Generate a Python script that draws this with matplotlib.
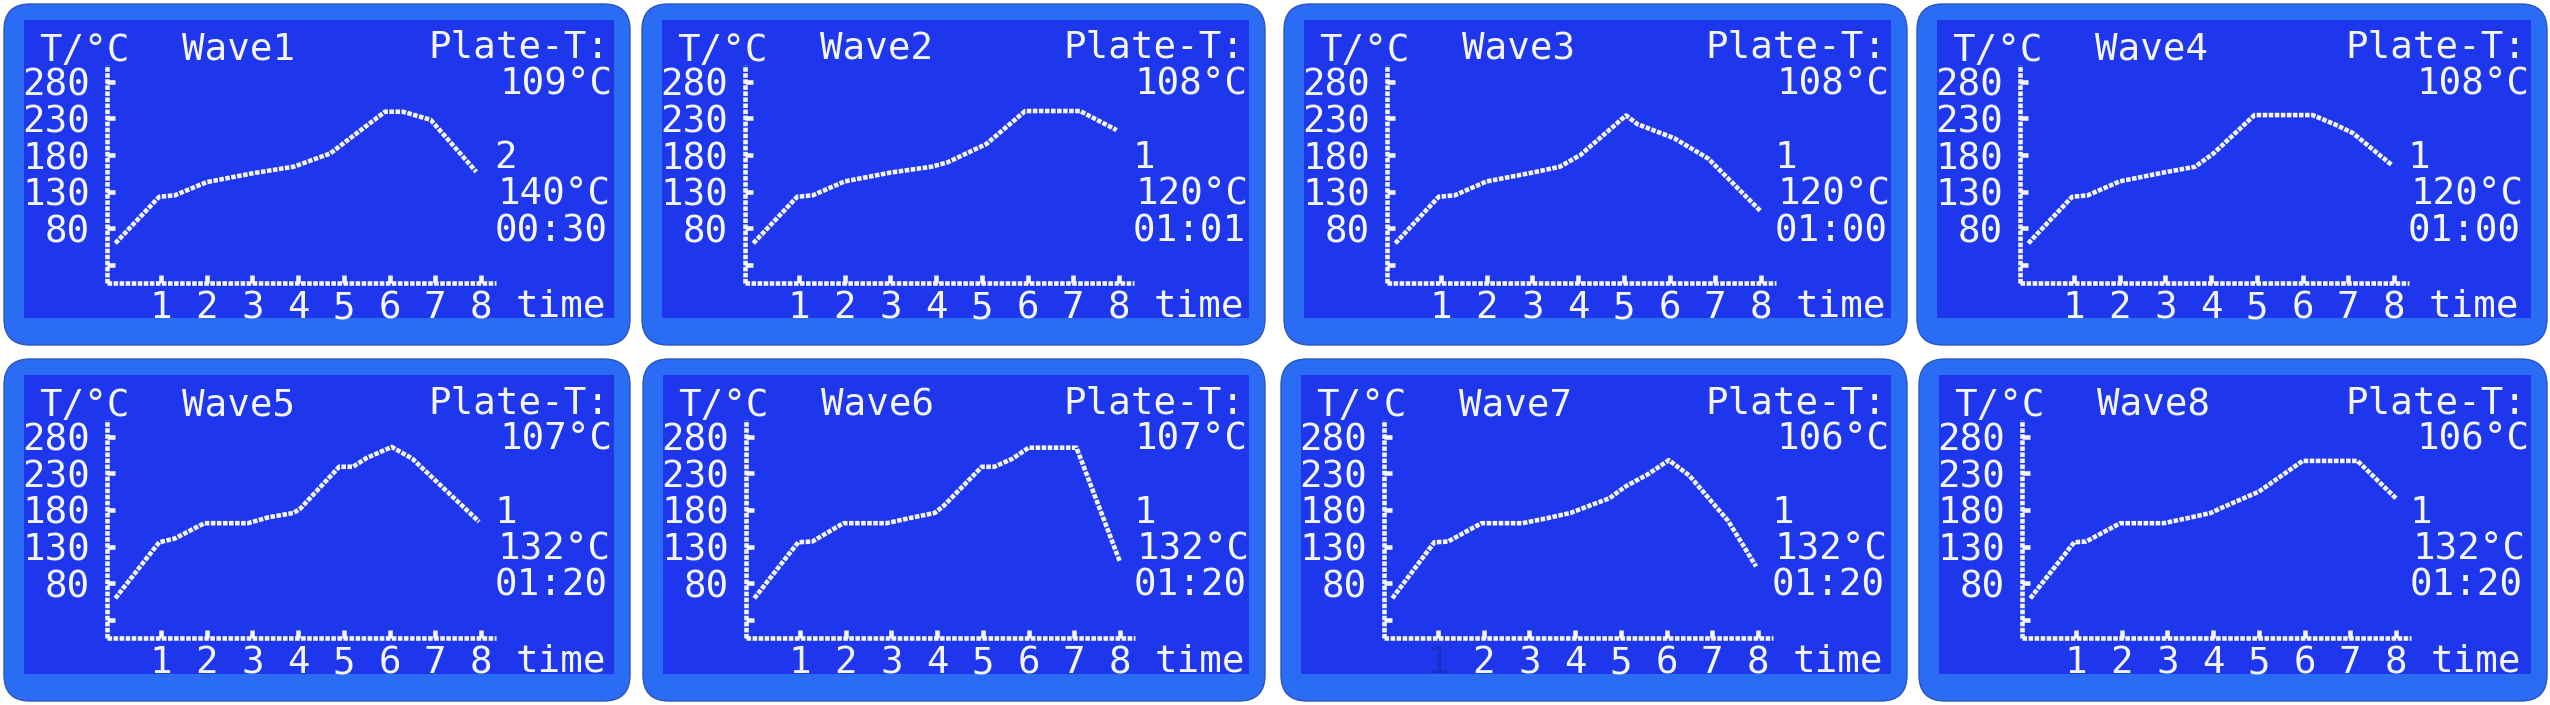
import matplotlib
matplotlib.use("Agg")
import matplotlib.pyplot as plt
from matplotlib.patches import FancyBboxPatch, Rectangle

# ---------------- data ----------------
wave_names = ["Wave1", "Wave2", "Wave3", "Wave4", "Wave5", "Wave6", "Wave7", "Wave8"]
plate_temps = ["109°C", "108°C", "108°C", "108°C", "107°C", "107°C", "106°C", "106°C"]
step_numbers = ["2", "1", "1", "1", "1", "1", "1", "1"]
set_temps = ["140°C", "120°C", "120°C", "120°C", "132°C", "132°C", "132°C", "132°C"]
timers = ["00:30", "01:01", "01:00", "01:00", "01:20", "01:20", "01:20", "01:20"]

y_tick_labels = ["280", "230", "180", "130", "80"]
y_tick_values = [280, 230, 180, 130, 80]
y_tick_marks = [30, 80, 130, 180, 230, 280]
x_tick_values = [1, 2, 3, 4, 5, 6, 7, 8]
x_tick_labels = ["1", "2", "3", "4", "5", "6", "7", "8"]
axis_time_range = [-0.18, 8.33]
axis_temp_range = [5.5, 303]

wave1_time = [0, 0.96, 1.3, 2.0, 3.0, 3.9, 4.7, 5.9, 6.3, 6.9, 7.9]
wave1_temp = [59.5, 123, 125, 143, 155, 164, 182, 239, 239, 228, 157]

wave2_time = [0, 0.96, 1.3, 2.0, 3.0, 3.9, 4.25, 5.1, 5.95, 7.15, 7.95]
wave2_temp = [59.5, 123, 125, 144, 156, 164, 170, 195, 240, 240, 214]

wave3_time = [0, 0.95, 1.3, 2.0, 3.0, 3.6, 4.05, 5.05, 5.3, 6.1, 6.85, 8.0]
wave3_temp = [59.5, 123, 125, 144, 156, 164, 180, 234, 222, 203, 175, 103]

wave4_time = [0, 0.96, 1.3, 2.0, 2.95, 3.65, 4.05, 4.95, 6.22, 6.7, 7.1, 7.96]
wave4_temp = [59.5, 123, 125, 144, 156, 164, 182, 234.5, 234.5, 222, 210, 166]

wave5_time = [0, 0.96, 1.3, 1.95, 2.9, 3.35, 3.9, 4.05, 4.9, 5.2, 5.5, 6.05, 6.5, 7.96]
wave5_temp = [59.5, 136, 141, 162, 162, 170, 176, 182, 239, 239, 251, 266, 250, 164]

wave6_time = [0, 0.96, 1.27, 1.95, 2.9, 3.4, 3.95, 4.15, 4.98, 5.25, 5.65, 6.0, 7.05, 8.0]
wave6_temp = [59.5, 136, 137, 162, 162, 169, 176, 186, 239, 239, 250, 265, 265, 109.5]

wave7_time = [0, 0.92, 1.22, 1.95, 2.85, 3.4, 3.9, 4.15, 4.75, 5.1, 5.6, 6.05, 6.5, 7.35, 7.96]
wave7_temp = [59.5, 136, 137, 162, 162, 169, 176, 182, 196, 212, 229, 248, 227, 165, 103]

wave8_time = [0, 0.96, 1.22, 1.97, 2.92, 3.45, 3.95, 4.15, 5.0, 5.96, 7.16, 8.0]
wave8_temp = [59.5, 136, 137, 162, 162, 169, 176, 182, 205, 247, 247, 196]

wave_times = [wave1_time, wave2_time, wave3_time, wave4_time,
              wave5_time, wave6_time, wave7_time, wave8_time]
wave_temps = [wave1_temp, wave2_temp, wave3_temp, wave4_temp,
              wave5_temp, wave6_temp, wave7_temp, wave8_temp]

# ---------------- layout / style ----------------
FIG_W, FIG_H, DPI = 2550, 705, 100
panel_boxes = [  # left, top, right, bottom (pixels)
    (3, 3, 631, 346), (641, 3, 1266, 346), (1283, 3, 1908, 346), (1916, 3, 2548, 346),
    (3, 358, 631, 702), (642, 358, 1266, 702), (1280, 358, 1908, 702), (1918, 358, 2548, 702),
]
PX_T0, PX_PER_T = 112.3, 45.7        # panel-relative pixel of time 0, px per time unit
PY_80, PY_PER_DEG = 225.3, 0.733     # panel-relative pixel of 80 degC, px per degC

BEZEL = "#2a6cf4"
EDGE = "#2a55c0"
LCD = "#1e36ec"
INK = "#f4f6ff"
DIM = "#1a2fc6"
FONT = "DejaVu Sans Mono"
FS = 27
CAP_HALF = 14  # px, half of cap height -> baseline offset

plt.rcParams["font.family"] = [FONT, "DejaVu Sans"]
fig = plt.figure(figsize=(FIG_W / DPI, FIG_H / DPI), dpi=DPI)
fig.patch.set_facecolor("white")

dash = (0, (1.0, 0.32))
LW = 3.3


def t_at(px):
    return (px - PX_T0) / PX_PER_T


def T_at(py_center):
    # baseline placement for a row whose visual centre is at py_center
    return 80 + (PY_80 - (py_center + CAP_HALF)) / PY_PER_DEG


for i in range(8):
    l, t, r, b = panel_boxes[i]
    pw, ph = r - l, b - t
    rect = [l / FIG_W, 1 - b / FIG_H, pw / FIG_W, ph / FIG_H]

    deco = fig.add_axes(rect)
    deco.set_xlim(0, pw)
    deco.set_ylim(ph, 0)
    deco.axis("off")
    deco.add_patch(FancyBboxPatch((1, 1), pw - 2, ph - 2,
                                  boxstyle="round,pad=0,rounding_size=26",
                                  fc=BEZEL, ec=EDGE, lw=1.0))
    deco.add_patch(Rectangle((21, 17), pw - 38, ph - 45, fc=LCD, ec="none"))

    ax = fig.add_axes(rect)
    ax.set_xlim(t_at(0), t_at(pw))
    ax.set_ylim(80 - (ph - PY_80) / PY_PER_DEG, 80 + PY_80 / PY_PER_DEG)
    ax.axis("off")
    ax.patch.set_alpha(0)

    t0, t1 = axis_time_range
    T0, T1 = axis_temp_range
    # axes lines
    ax.plot([t0, t0], [T0, T1], color=INK, lw=LW, ls=dash, dash_capstyle="butt")
    ax.plot([t0, t1], [T0, T0], color=INK, lw=LW, ls=dash, dash_capstyle="butt")
    # tick marks
    for yv in y_tick_marks:
        ax.plot([t0, t0 + 4.5 / PX_PER_T * 1.7], [yv, yv], color=INK, lw=LW,
                solid_capstyle="butt")
    for xv in x_tick_values:
        ax.plot([xv, xv], [T0, T0 + 4.5 / PY_PER_DEG * 1.7], color=INK, lw=LW,
                solid_capstyle="butt")

    # curve
    ax.plot(wave_times[i], wave_temps[i], color=INK, lw=LW, ls=dash,
            dash_capstyle="butt", solid_joinstyle="miter")

    # texts
    kw = dict(color=INK, fontsize=FS, family=FONT, va="baseline")
    ax.text(t_at(36), T_at(44), "T/°C", ha="left", **kw)
    ax.text(t_at(179), T_at(43), wave_names[i], ha="left", **kw)
    ax.text(t_at(pw - 22), T_at(41), "Plate-T:", ha="right", **kw)
    ax.text(t_at(pw - 18), T_at(77), plate_temps[i], ha="right", **kw)
    for lab, yv in zip(y_tick_labels, y_tick_values):
        ax.text(t_at(87), yv - CAP_HALF / PY_PER_DEG, lab, ha="right", **kw)
    for lab, xv in zip(x_tick_labels, x_tick_values):
        c = DIM if (i == 6 and lab == "1") else INK
        kk = dict(kw)
        kk["color"] = c
        ax.text(xv, T_at(301), lab, ha="center", **kk)
    ax.text(t_at(513), T_at(299), "time", ha="left", **kw)
    ax.text(t_at(491), T_at(151), step_numbers[i], ha="left", **kw)
    ax.text(t_at(494), T_at(187), set_temps[i], ha="left", **kw)
    ax.text(t_at(492), T_at(224), timers[i], ha="left", **kw)

fig.savefig("out.png", dpi=DPI, facecolor="white")
